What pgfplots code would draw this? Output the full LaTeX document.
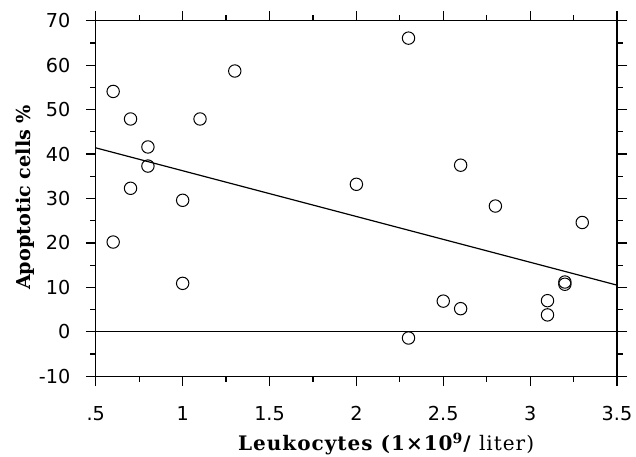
\documentclass[border=0pt]{standalone}
\usepackage{pgfplots}
\pgfplotsset{compat=1.18}
\usepackage{fontspec}
\newfontfamily\tickfont{DejaVu Sans}
\newfontfamily\labelfont{DejaVu Serif}
\newfontfamily\xlabelfont[LetterSpace=5]{DejaVu Serif}

\begin{document}
\begin{tikzpicture}
\begin{axis}[
    scale only axis,
    width=260.6pt, height=177.7pt,
    xmin=0.5, xmax=3.5, ymin=-10, ymax=70,
    axis line style={line width=0.6pt},
    tick align=outside,
    tick style={black, line width=0.6pt},
    major tick length=5pt,
    minor tick length=2.8pt,
    xtick={0.5,1,1.5,2,2.5,3,3.5},
    xticklabels={.5,1,1.5,2,2.5,3,3.5},
    minor xtick={0.75,1.25,1.75,2.25,2.75,3.25},
    ytick={-10,0,10,20,30,40,50,60,70},
    yticklabels={-10,0,10,20,30,40,50,60,70},
    minor ytick={-5,5,15,25,35,45,55,65},
    tick label style={font=\tickfont\fontsize{9.6}{11}\selectfont},
    xticklabel style={yshift=-6.5pt},
    yticklabel style={xshift=-4.2pt},
    xticklabel pos=lower, yticklabel pos=left,
    xlabel={\textbf{Leukocytes (1×10\textsuperscript{9}/} liter)},
    ylabel={\textbf{Apoptotic cells \%}},
    xlabel style={font=\xlabelfont\fontsize{10}{12}\selectfont,
        at={([yshift=-25pt]rel axis cs:0.557,0)}, anchor=north},
    ylabel style={font=\labelfont\fontsize{9.6}{12}\selectfont,
        at={([xshift=-27pt]rel axis cs:0,0.503)}, anchor=south},
]
\coordinate (bl) at (rel axis cs:0,0);
\coordinate (tr) at (rel axis cs:1,1);
\addplot[black, line width=0.5pt] coordinates {(0.5,0)(3.5,0)};
\addplot[black, line width=0.6pt] coordinates {(0.5,41.4)(3.5,10.5)};
\addplot[only marks, mark=o, mark size=3.1pt, mark options={black, line width=0.5pt}]
coordinates{
(0.6,54.1)(0.7,47.9)(0.8,41.6)(0.8,37.3)(0.7,32.3)(1.0,29.6)(1.1,47.9)
(1.3,58.7)(2.3,66.1)(2.0,33.2)(2.6,37.5)(2.8,28.3)(3.3,24.6)(0.6,20.2)
(1.0,10.9)(2.3,-1.4)(2.5,6.9)(2.6,5.2)(3.1,7.0)(3.1,3.8)(3.2,11.2)(3.2,10.7)
};
\end{axis}
\pgfresetboundingbox
\path ([xshift=-47.9pt,yshift=-40pt]bl) rectangle ([xshift=9.5pt,yshift=10.4pt]tr);
\end{tikzpicture}
\end{document}
